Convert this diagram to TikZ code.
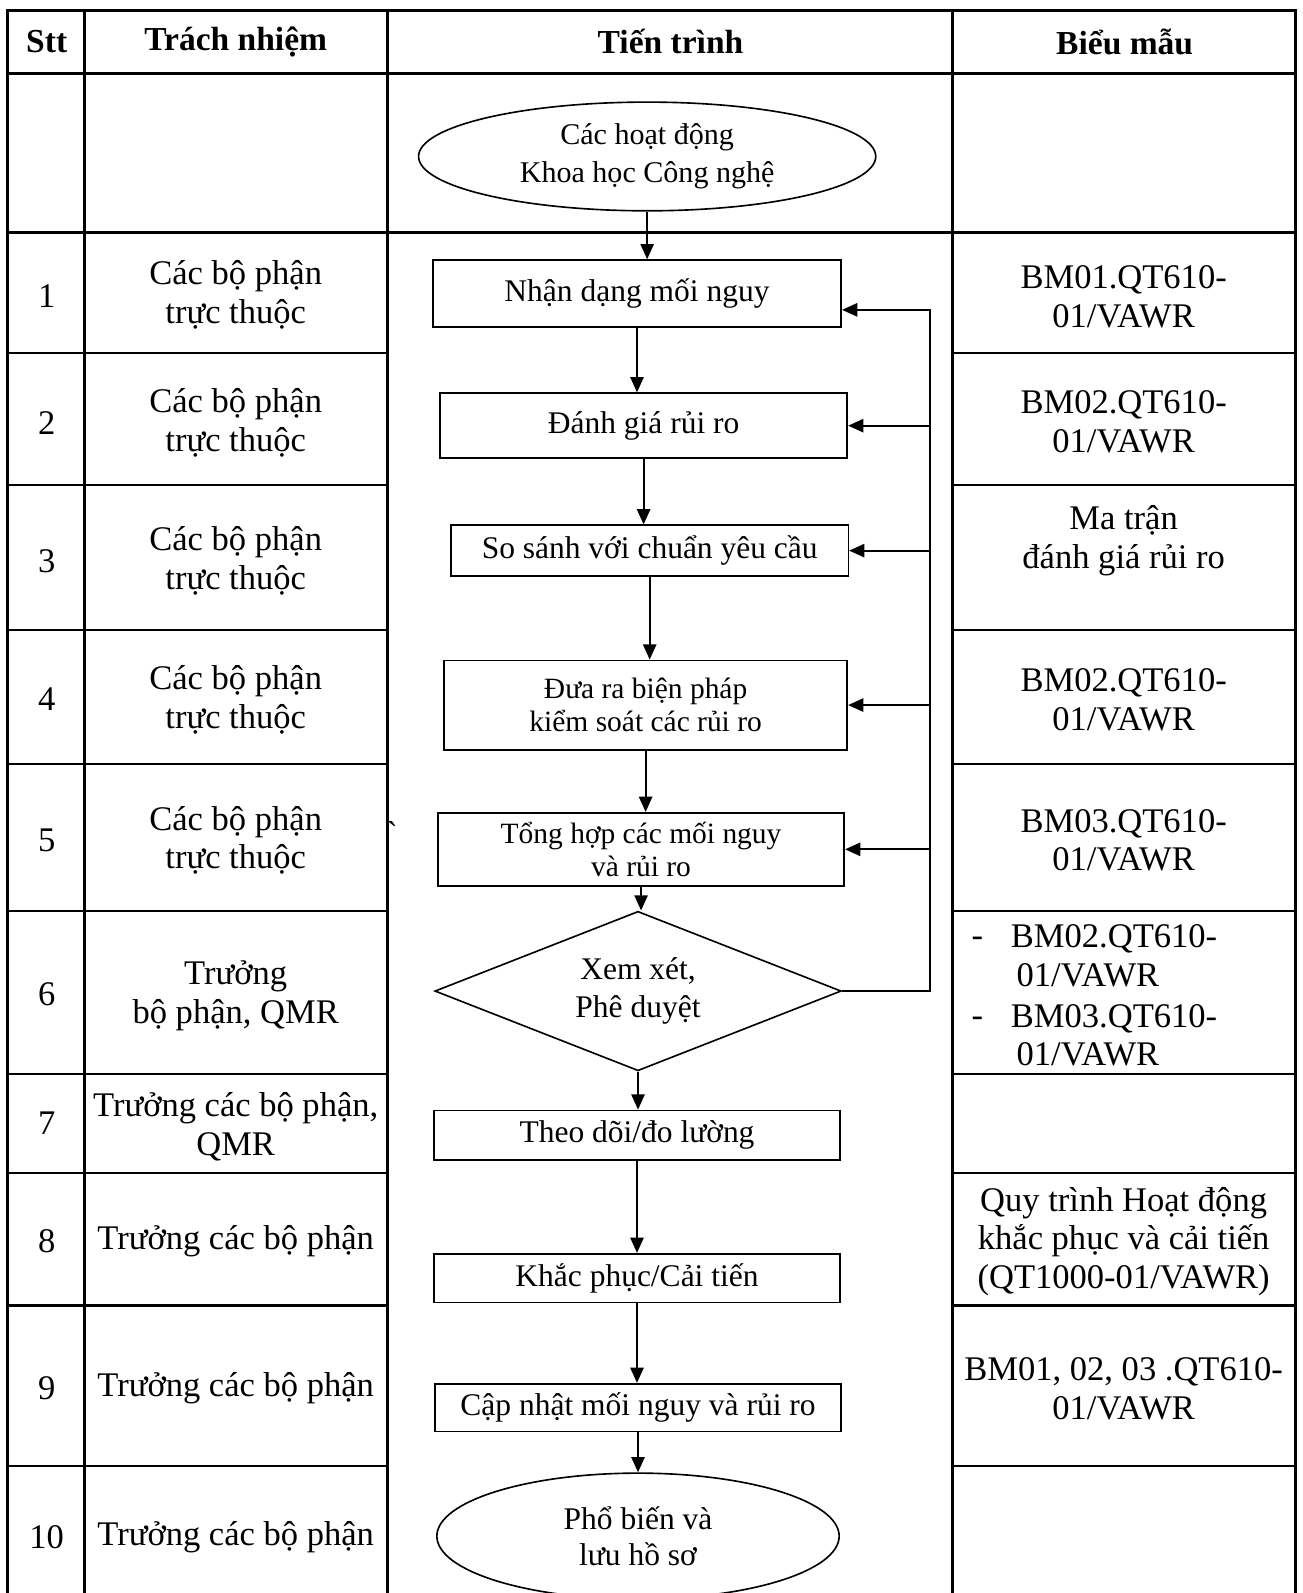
\documentclass[tikz,border=0pt]{standalone}
\usepackage{fontspec}
\setmainfont{Liberation Serif}
\usetikzlibrary{arrows.meta,shapes.geometric}
\begin{document}
\begin{tikzpicture}[>={Triangle[length=7.5pt,width=6.5pt]}, x=.5pt, y=-.5pt,
	day/.style={line width=1.5pt},
	bang/.style={line width=1pt},
	chu/.style={font=\fontsize{17}{19}\selectfont, align=center},
	tieude/.style={font=\bfseries\fontsize{16.5}{19}\selectfont},
	hop/.style={draw, line width=.8pt, inner sep=1pt, align=center, font=\fontsize{15.5}{17}\selectfont},
	nho/.style={font=\fontsize{14.5}{16.5}\selectfont},
	muiten/.style={->, line width=1pt}]
	\useasboundingbox (0,0) rectangle (1282,1568);
	%Khung bảng
	\draw[day] (7,1568) -- (7,10) -- (1275,10) -- (1275,1568);
	\draw[day] (7,72) -- (1275,72);
	\draw[day] (7,229) -- (1275,229);
	\foreach \x in {83,381,938}{\draw[day] (\x,10) -- (\x,1568);}
	\foreach \y in {347,477,620,752,897,1057,1155,1285,1443}{\draw[bang] (7,\y) -- (381,\y); \draw[bang] (938,\y) -- (1275,\y);
	}
	%Tiêu đề
	\node[tieude] (h1) at (46,41) {Stt};
	\node[tieude] (h2) at (232,41) {Trách nhiệm};
	\node[tieude] (h3) at (660,41) {Tiến trình};
	\node[tieude] (h4) at (1107,41) {Biểu mẫu};
	%Cột Stt
	\foreach \n/\y in {1/291,2/416,3/552,4/688,5/827,6/979,7/1106,8/1222,9/1366,10/1513}{\node[chu] (stt\n) at (46,\y) {\n};
	}
	%Cột Trách nhiệm
	\foreach \n/\y in {1/290,2/416,3/552,4/689,5/827}{\node[chu] (tn\n) at (232,\y) {Các bộ phận\\trực thuộc};
	}
	\node[chu] (tn6) at (232,980) {Trưởng\\bộ phận, QMR};
	\node[chu] (tn7) at (232,1109) {Trưởng các bộ phận,\\QMR};
	\foreach \n/\y in {8/1222,9/1366,10/1513}{\node[chu] (tn\n) at (232,\y) {Trưởng các bộ phận};
	}
	%Cột Biểu mẫu
	\node[chu] (bm1) at (1106,292) {BM01.QT610-\\01/VAWR};
	\node[chu] (bm2) at (1106,415) {BM02.QT610-\\01/VAWR};
	\node[chu] (bm3) at (1106,532) {Ma trận\\đánh giá rủi ro};
	\node[chu] (bm4) at (1106,689) {BM02.QT610-\\01/VAWR};
	\node[chu] (bm5) at (1106,827) {BM03.QT610-\\01/VAWR};
	\node[chu, align=left, anchor=west] (bm6a) at (988,941) {BM02.QT610-\\\,01/VAWR};
	\node[chu, anchor=base] (gach1) at (962,932) {-};
	\node[chu, align=left, anchor=west] (bm6b) at (988,1019) {BM03.QT610-\\\,01/VAWR};
	\node[chu, anchor=base] (gach2) at (962,1010) {-};
	\node[chu] (bm8) at (1106,1222) {Quy trình Hoạt động\\khắc phục và cải tiến\\(QT1000-01/VAWR)};
	\node[chu] (bm9) at (1106,1367) {BM01, 02, 03 .QT610-\\01/VAWR};
	\node[chu, anchor=base] (vet) at (386,832) {\textasciigrave};
	%Tiến trình
	\node[hop, ellipse, minimum width=225pt, minimum height=53.5pt, font=\fontsize{14.8}{18.5}\selectfont] (batdau) at (637,154) {Các hoạt động\\Khoa học Công nghệ};
	\node[hop, minimum width=201pt, minimum height=33pt] (b1) at (627,289) {Nhận dạng mối nguy};
	\node[hop, minimum width=200.5pt, minimum height=32pt] (b2) at (633.5,419) {Đánh giá rủi ro};
	\node[hop, minimum width=195.5pt, minimum height=25pt] (b3) at (639.5,542) {So sánh với chuẩn yêu cầu};
	\node[hop, nho, minimum width=198.5pt, minimum height=44pt] (b4) at (635.5,694) {Đưa ra biện pháp\\kiểm soát các rủi ro};
	\node[hop, nho, minimum width=200pt, minimum height=36pt] (b5) at (631,836) {Tổng hợp các mối nguy\\và rủi ro};
	\node[hop, diamond, aspect=2.5, inner sep=0pt, minimum width=200pt, minimum height=78.5pt, font=\fontsize{15.5}{18.5}\selectfont] (duyet) at (628,975.5) {Xem xét,\\Phê duyệt};
	\node[hop, minimum width=200pt, minimum height=24.5pt] (b7) at (627,1117.5) {Theo dõi/đo lường};
	\node[hop, minimum width=200pt, minimum height=24pt] (b8) at (627,1258) {Khắc phục/Cải tiến};
	\node[hop, minimum width=200pt, minimum height=23.5pt] (b9) at (628,1385.5) {Cập nhật mối nguy và rủi ro};
	\node[hop, ellipse, minimum width=198pt, minimum height=62pt, font=\fontsize{15.5}{17.5}\selectfont] (ketthuc) at (628,1512) {Phổ biến và\\lưu hồ sơ};
	\foreach \a/\b in {batdau/b1,b1/b2,b2/b3,b3/b4,b4/b5,b5/duyet,duyet/b7,b7/b8,b8/b9,b9/ketthuc}{\draw[muiten] (\a.south) -- (\a.south |- \b.north);
	}
	%Vòng lặp
	\coordinate (vong) at (915,305);
	\draw[muiten] (duyet.east) -| (vong) -- (b1.east |- vong);
	\foreach \b in {b2,b3,b4,b5}{\draw[muiten] (\b.east -| vong) -- (\b.east);}
\end{tikzpicture}
\end{document}
